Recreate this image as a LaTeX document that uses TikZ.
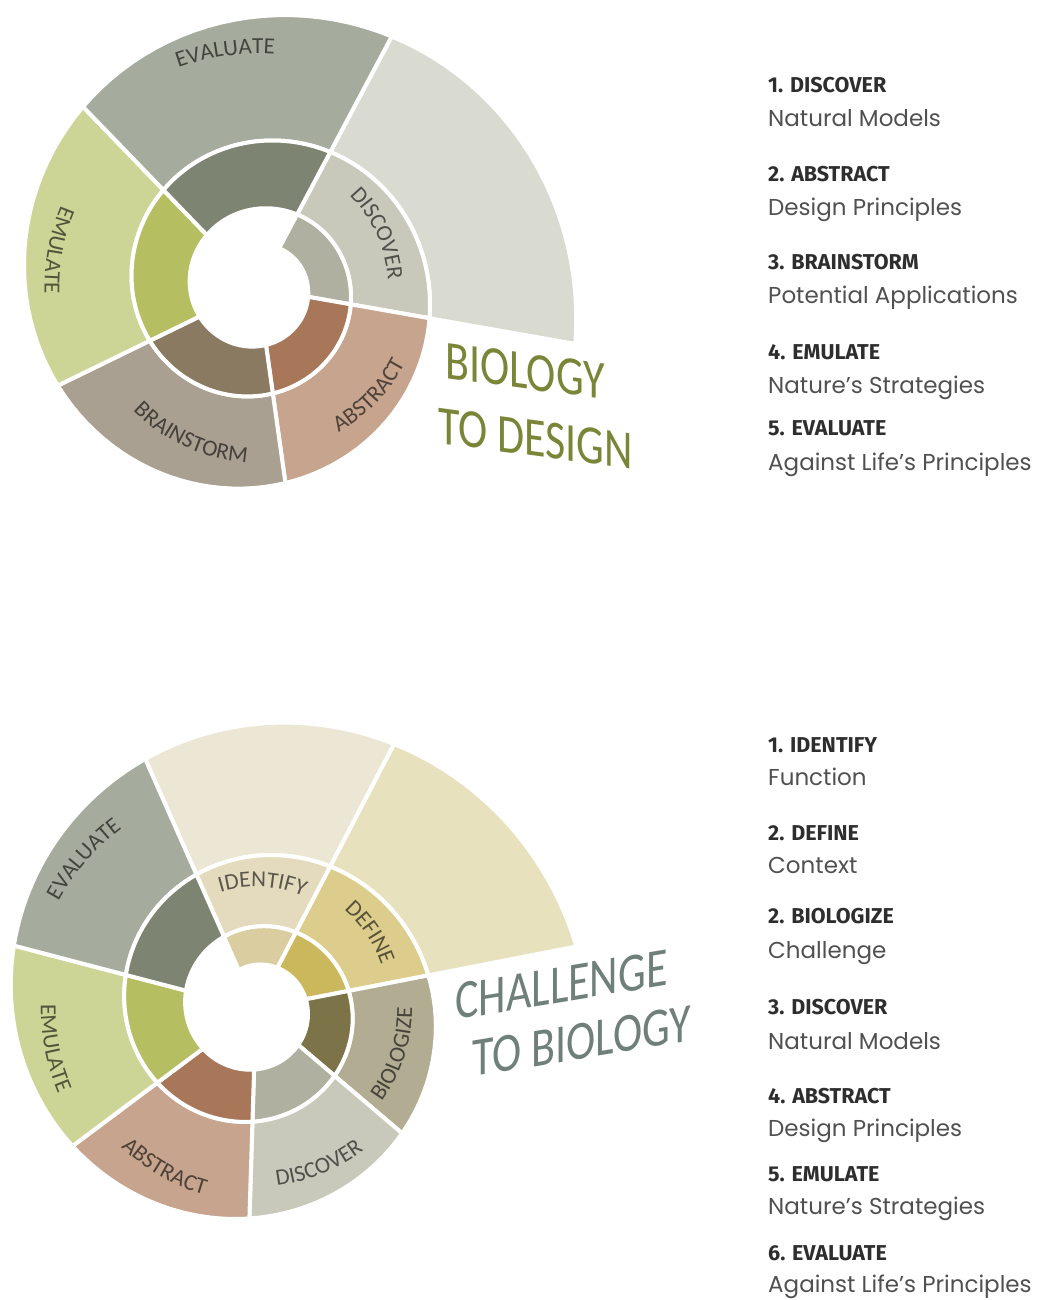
\documentclass[tikz,border=0pt]{standalone}
\usepackage{fontspec}
\usepackage{xcolor}
\usepackage{tikz}
\usetikzlibrary{positioning, decorations.text}

\setmainfont{Carlito}
\newfontfamily\titlefont[FakeStretch=0.8]{Carlito}
\newfontfamily\headfont{Fira Sans}
\newfontfamily\subfont{Poppins}

% step colours
\definecolor{discoverpale}{HTML}{D9DAD0}
\definecolor{discovermid}{HTML}{C9C9BB}
\definecolor{discoverdark}{HTML}{B0B0A0}
\definecolor{abstractmid}{HTML}{C6A48E}
\definecolor{abstractdark}{HTML}{A87658}
\definecolor{brainstormmid}{HTML}{AAA092}
\definecolor{brainstormdark}{HTML}{8B7A62}
\definecolor{emulatemid}{HTML}{CDD596}
\definecolor{emulatedark}{HTML}{B5BE60}
\definecolor{evaluatemid}{HTML}{A6AC9D}
\definecolor{evaluatedark}{HTML}{7D8472}
\definecolor{identifypale}{HTML}{ECE7D4}
\definecolor{identifymid}{HTML}{E4DBBE}
\definecolor{identifydark}{HTML}{DACDA0}
\definecolor{definepale}{HTML}{E8E1BE}
\definecolor{definemid}{HTML}{DCCD8C}
\definecolor{definedark}{HTML}{CBB85C}
\definecolor{biologizemid}{HTML}{B2AC92}
\definecolor{biologizedark}{HTML}{7D7348}
\definecolor{titleolive}{HTML}{7A8537}
\definecolor{titleslate}{HTML}{6F7F7A}
\definecolor{headgrey}{HTML}{2E2E2E}
\definecolor{subgrey}{HTML}{505050}

% one segment of the spiral between two of its turns
% #1 colour, #2-#3 sweep (deg, clockwise from \spstart), #4-#5 inner/outer turn
\newcommand{\spiralpiece}[5]{%
  \filldraw[piece, fill=#1]
    plot[domain=#2:#3] ({\spstart-\x}:{\spbase*exp(\spgrow*(\x/360+#4))})
    -- plot[domain=#3:#2] ({\spstart-\x}:{\spbase*exp(\spgrow*(\x/360+#5))})
    -- cycle;}

\begin{document}
\begin{tikzpicture}[x=1pt, y=1pt,
    piece/.style={draw=white, line width=4pt, line join=round},
    arclabel/.style={decorate, decoration={text along path, text align=center,
        text={|\fontsize{23}{23}\selectfont|#1}}},
    title/.style={font=\titlefont\fontsize{55}{55}\selectfont, inner sep=0pt, anchor=base west},
    head/.style={font=\headfont\bfseries\fontsize{21.5}{25}\selectfont, text=headgrey, inner sep=0pt, anchor=base west},
    sub/.style={font=\subfont\fontsize{23}{27}\selectfont, text=subgrey, inner sep=0pt}]

    \useasboundingbox (0,0) rectangle (1041,1300);

    % Biology to design spiral
    \begin{scope}[shift={(258,1012)}]
        \def\spstart{62}\def\spbase{45}\def\spgrow{0.6152}
        \spiralpiece{discoverpale}{0}{72}{2}{3}
        \spiralpiece{discovermid}{0}{72}{1}{2}
        \spiralpiece{discoverdark}{0}{72}{0}{1}
        \spiralpiece{abstractmid}{72}{144}{1}{2}
        \spiralpiece{abstractdark}{72}{144}{0}{1}
        \spiralpiece{brainstormmid}{144}{216}{1}{2}
        \spiralpiece{brainstormdark}{144}{216}{0}{1}
        \spiralpiece{emulatemid}{216}{288}{1}{2}
        \spiralpiece{emulatedark}{216}{288}{0}{1}
        \spiralpiece{evaluatemid}{288}{360}{1}{2}
        \spiralpiece{evaluatedark}{288}{360}{0}{1}

        \begin{scope}[fill opacity=0.6]
            \path[arclabel=EVALUATE] (127.9:234) arc[start angle=127.9, end angle=67.9, radius=234];
            \path[arclabel=DISCOVER] (54.5:130) arc[start angle=54.5, end angle=-5.5, radius=130];
            \path[arclabel=ABSTRACT] (286:165) arc[start angle=286, end angle=346, radius=165];
            \path[arclabel=BRAINSTORM] (215.4:175) arc[start angle=215.4, end angle=275.4, radius=175];
            \path[arclabel=EMULATE] (139.4:213.5) arc[start angle=139.4, end angle=199.4, radius=213.5];
        \end{scope}
    \end{scope}

    % Challenge to biology spiral
    \begin{scope}[shift={(256,291)}]
        \def\spstart{113.9}\def\spbase{42.5}\def\spgrow{0.6206}
        \spiralpiece{identifypale}{0}{51.43}{2}{3}
        \spiralpiece{identifymid}{0}{51.43}{1}{2}
        \spiralpiece{identifydark}{0}{51.43}{0}{1}
        \spiralpiece{definepale}{51.43}{102.86}{2}{3}
        \spiralpiece{definemid}{51.43}{102.86}{1}{2}
        \spiralpiece{definedark}{51.43}{102.86}{0}{1}
        \spiralpiece{biologizemid}{102.86}{154.29}{1}{2}
        \spiralpiece{biologizedark}{102.86}{154.29}{0}{1}
        \spiralpiece{discovermid}{154.29}{205.71}{1}{2}
        \spiralpiece{discoverdark}{154.29}{205.71}{0}{1}
        \spiralpiece{abstractmid}{205.71}{257.14}{1}{2}
        \spiralpiece{abstractdark}{205.71}{257.14}{0}{1}
        \spiralpiece{emulatemid}{257.14}{308.57}{1}{2}
        \spiralpiece{emulatedark}{257.14}{308.57}{0}{1}
        \spiralpiece{evaluatemid}{308.57}{360}{1}{2}
        \spiralpiece{evaluatedark}{308.57}{360}{0}{1}

        \begin{scope}[fill opacity=0.6]
            \path[arclabel=IDENTIFY] (117:122) arc[start angle=117, end angle=57, radius=122];
            \path[arclabel=DEFINE] (64:133) arc[start angle=64, end angle=4, radius=133];
            \path[arclabel=BIOLOGIZE] (-48:156) arc[start angle=-48, end angle=12, radius=156];
            \path[arclabel=DISCOVER] (-98:178) arc[start angle=-98, end angle=-38, radius=178];
            \path[arclabel=ABSTRACT] (210:193) arc[start angle=210, end angle=270, radius=193];
            \path[arclabel=EMULATE] (161:215) arc[start angle=161, end angle=221, radius=215];
            \path[arclabel=EVALUATE] (169:225) arc[start angle=169, end angle=109, radius=225];
        \end{scope}
    \end{scope}

    % Titles
    \node[title, text=titleolive, yslant=-0.135] (bioLine) at (445,922) {BIOLOGY};
    \node[title, text=titleolive, yslant=-0.135] (designLine) at (438,857) {TO DESIGN};
    \node[title, text=titleslate, yslant=0.165] (challengeLine) at (455,280) {CHALLENGE};
    \node[title, text=titleslate, yslant=0.165] (biologyLine) at (472,223) {TO BIOLOGY};

    % Biology to design steps
    \node[head] (bdDiscover) at (768,1207) {1. DISCOVER};
    \node[sub, below=34pt of bdDiscover.base west, anchor=base west] (bdDiscoverTxt) {Natural Models};
    \node[head, below=55pt of bdDiscoverTxt.base west, anchor=base west] (bdAbstract) {2. ABSTRACT};
    \node[sub, below=34pt of bdAbstract.base west, anchor=base west] (bdAbstractTxt) {Design Principles};
    \node[head, below=54pt of bdAbstractTxt.base west, anchor=base west] (bdBrainstorm) {3. BRAINSTORM};
    \node[sub, below=34pt of bdBrainstorm.base west, anchor=base west] (bdBrainstormTxt) {Potential Applications};
    \node[head, below=56pt of bdBrainstormTxt.base west, anchor=base west] (bdEmulate) {4. EMULATE};
    \node[sub, below=34pt of bdEmulate.base west, anchor=base west] (bdEmulateTxt) {Nature’s Strategies};
    \node[head, below=42pt of bdEmulateTxt.base west, anchor=base west] (bdEvaluate) {5. EVALUATE};
    \node[sub, below=35pt of bdEvaluate.base west, anchor=base west] (bdEvaluateTxt) {Against Life’s Principles};

    % Challenge to biology steps
    \node[head] (cbIdentify) at (768,547) {1. IDENTIFY};
    \node[sub, below=33pt of cbIdentify.base west, anchor=base west] (cbIdentifyTxt) {Function};
    \node[head, below=55pt of cbIdentifyTxt.base west, anchor=base west] (cbDefine) {2. DEFINE};
    \node[sub, below=33pt of cbDefine.base west, anchor=base west] (cbDefineTxt) {Context};
    \node[head, below=50pt of cbDefineTxt.base west, anchor=base west] (cbBiologize) {2. BIOLOGIZE};
    \node[sub, below=35pt of cbBiologize.base west, anchor=base west] (cbBiologizeTxt) {Challenge};
    \node[head, below=56pt of cbBiologizeTxt.base west, anchor=base west] (cbDiscover) {3. DISCOVER};
    \node[sub, below=35pt of cbDiscover.base west, anchor=base west] (cbDiscoverTxt) {Natural Models};
    \node[head, below=54pt of cbDiscoverTxt.base west, anchor=base west] (cbAbstract) {4. ABSTRACT};
    \node[sub, below=33pt of cbAbstract.base west, anchor=base west] (cbAbstractTxt) {Design Principles};
    \node[head, below=45pt of cbAbstractTxt.base west, anchor=base west] (cbEmulate) {5. EMULATE};
    \node[sub, below=33pt of cbEmulate.base west, anchor=base west] (cbEmulateTxt) {Nature’s Strategies};
    \node[head, below=46pt of cbEmulateTxt.base west, anchor=base west] (cbEvaluate) {6. EVALUATE};
    \node[sub, below=31pt of cbEvaluate.base west, anchor=base west] (cbEvaluateTxt) {Against Life’s Principles};
\end{tikzpicture}
\end{document}
